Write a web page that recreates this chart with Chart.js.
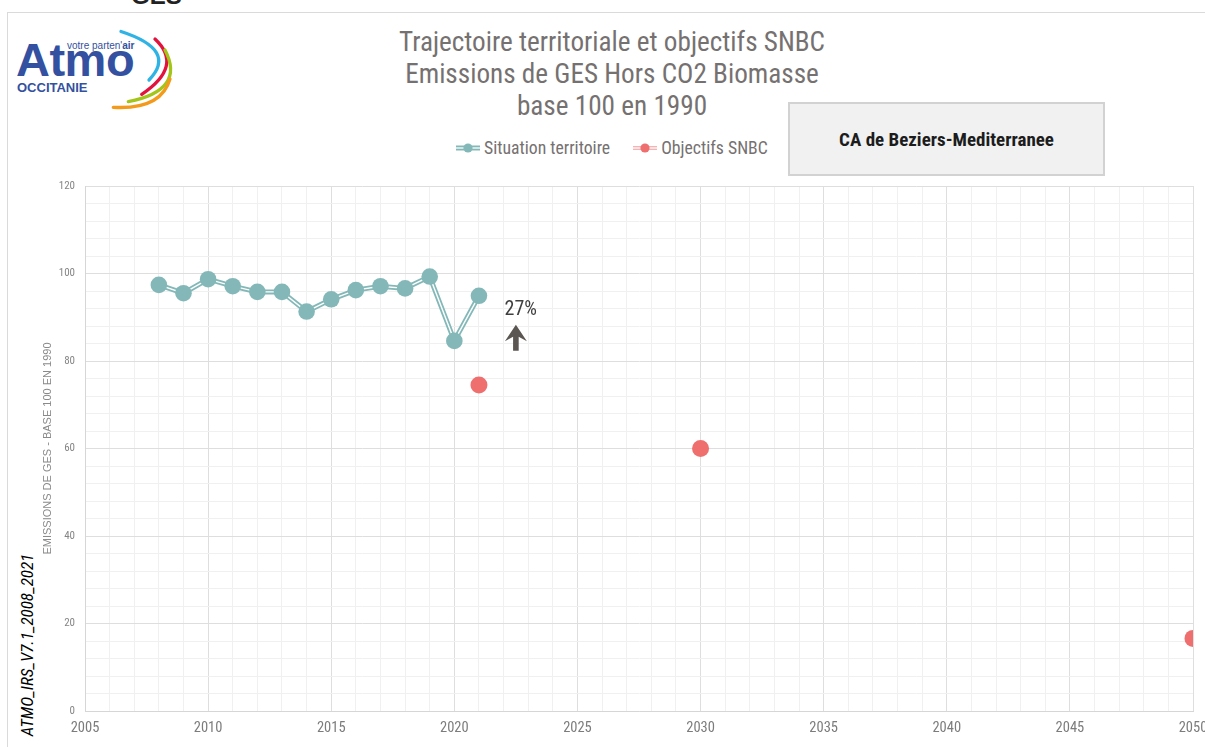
<!DOCTYPE html>
<html>
<head>
<meta charset="utf-8">
<script src="https://cdn.jsdelivr.net/npm/chart.js@4.4.1/dist/chart.umd.min.js"></script>
<style>
html, body { margin: 0; padding: 0; width: 1205px; height: 747px; overflow: hidden; background: #fff; }
.narrow { font-family: 'Liberation Sans Narrow', 'Arial Narrow', 'Roboto Condensed', 'Liberation Sans', sans-serif; }
#frame { position: absolute; left: 7px; top: 12px; width: 1300px; height: 800px; border-top: 1px solid #dadada; border-left: 1px solid #dadada; }
#wrap { position: absolute; left: 0; top: 0; width: 1225px; height: 747px; }
#heading { position: absolute; left: 131px; top: -16px; font: bold 24px 'Liberation Sans', sans-serif; line-height: 24px; color: #222; }
#title { position: absolute; left: 312px; top: 26px; width: 600px; text-align: center; font-size: 27.2px; line-height: 32px; color: #767171; }
#legend { position: absolute; left: 456px; top: 136px; height: 24px; display: flex; align-items: center; font-size: 17.7px; color: #767171; white-space: nowrap; }
#legend svg { display: block; margin-right: 2px; }
#legend .item { display: flex; align-items: center; }
#box { position: absolute; left: 788px; top: 102px; width: 313px; height: 70px; background: #f1f1f1; border: 2px solid #d2d2d2; display: flex; align-items: center; justify-content: center; font-weight: bold; font-size: 19px; color: #1c1c1c; }
#version { position: absolute; left: -73px; top: 635px; width: 200px; height: 20px; line-height: 20px; text-align: center; font-style: italic; font-size: 17px; color: #000; transform: rotate(-90deg); white-space: nowrap; }
#logo { position: absolute; left: 0; top: 0; width: 200px; height: 120px; }
#logo .atmo { position: absolute; left: 16px; top: 35px; font: bold 47px 'Liberation Sans', sans-serif; color: #3351a0; letter-spacing: -0.5px; line-height: 50px; }
#logo .occ { position: absolute; left: 17px; top: 80px; font: bold 13px 'Liberation Sans', sans-serif; color: #3351a0; line-height: 16px; }
#logo .tag { position: absolute; left: 67px; top: 40px; font: 10px 'Liberation Sans', sans-serif; color: #3351a0; line-height: 12px; }
#logo svg { position: absolute; left: 0; top: 0; }
</style>
</head>
<body>
<div id="frame"></div>
<div id="heading">GES</div>
<div id="logo">
  <div class="tag">votre parten'<b>air</b></div>
  <div class="atmo">Atmo</div>
  <div class="occ">OCCITANIE</div>
  <svg width="200" height="120" viewBox="0 0 200 120">
    <g fill="none" stroke-width="3.3" stroke-linecap="round">
      <path d="M121 31.5 Q178 50 149 80" stroke="#2fb3e4"/>
      <path d="M155 39 Q184 66 141.7 94.3" stroke="#e2123d"/>
      <path d="M165 50 Q186 90 128.3 101.7" stroke="#a3c51a"/>
      <path d="M170 79 Q161 110 113.3 107.3" stroke="#f39a1b"/>
    </g>
  </svg>
</div>
<div id="title" class="narrow">Trajectoire territoriale et objectifs SNBC<br>Emissions de GES Hors CO2 Biomasse<br>base 100 en 1990</div>
<div id="legend" class="narrow">
  <div class="item">
    <svg width="26" height="14" viewBox="0 0 26 14"><line x1="0" y1="7" x2="24" y2="7" stroke="#84b8b8" stroke-width="5"/><line x1="0" y1="7" x2="24" y2="7" stroke="#fff" stroke-width="1.3"/><circle cx="12" cy="7" r="4.6" fill="#84b8b8"/></svg>
    <span>Situation territoire</span>
  </div>
  <div class="item" style="margin-left:23px">
    <svg width="26" height="14" viewBox="0 0 26 14"><line x1="0" y1="7" x2="24" y2="7" stroke="#f6b3b3" stroke-width="4"/><line x1="0" y1="7" x2="24" y2="7" stroke="#fff" stroke-width="1.2"/><circle cx="12" cy="7" r="4.6" fill="#ef6f6f"/></svg>
    <span>Objectifs SNBC</span>
  </div>
</div>
<div id="box" class="narrow">CA de Beziers-Mediterranee</div>
<div id="version" class="narrow">ATMO_IRS_V7.1_2008_2021</div>
<div id="wrap"><canvas id="chart"></canvas></div>
<script>
const NARROW = "'Liberation Sans Narrow', 'Arial Narrow', 'Roboto Condensed', 'Liberation Sans', sans-serif"

// situation territoire, base 100 en 1990
const years = [2008, 2009, 2010, 2011, 2012, 2013, 2014, 2015, 2016, 2017, 2018, 2019, 2020, 2021]
const situation = [97.4, 95.5, 98.7, 97.1, 95.8, 95.8, 91.3, 94.1, 96.2, 97.1, 96.6, 99.3, 84.6, 94.9]

// objectifs SNBC
const objectifYears = [2021, 2030, 2050]
const objectifs = [74.5, 60.0, 16.6]

// axes
const xMin = 2005
const xMax = 2050
const xLabelEvery = 5
const yMin = 0
const yMax = 120
const yStep = 4
const yLabelEvery = 20

// ecart annotation
const trendLabel = '27%'
const trendAt = { x: 2022.7, y: 90.6 }
const arrowAt = { x: 2022.5, y: 88.3 }

const teal = '#84b8b8'
const red = '#ef6f6f'

const situationPoints = years.map((yr, i) => ({ x: yr, y: situation[i] }))
const objectifPoints = objectifYears.map((yr, i) => ({ x: yr, y: objectifs[i] }))

const trendMarker = {
    id: 'trendMarker',
    afterDatasetsDraw(chart) {
        const { ctx, scales: { x, y } } = chart
        ctx.save()
        ctx.fillStyle = '#3f3f3f'
        ctx.font = '20px ' + NARROW
        ctx.textAlign = 'center'
        ctx.textBaseline = 'alphabetic'
        ctx.fillText(trendLabel, x.getPixelForValue(trendAt.x), y.getPixelForValue(trendAt.y))

        const ax = x.getPixelForValue(arrowAt.x)
        const ay = y.getPixelForValue(arrowAt.y)
        ctx.fillStyle = '#5b5651'
        ctx.beginPath()
        ctx.moveTo(ax, ay)
        ctx.lineTo(ax + 11, ay + 16.5)
        ctx.lineTo(ax + 2.8, ay + 12)
        ctx.lineTo(ax + 2.8, ay + 26)
        ctx.lineTo(ax - 2.8, ay + 26)
        ctx.lineTo(ax - 2.8, ay + 12)
        ctx.lineTo(ax - 11, ay + 16.5)
        ctx.closePath()
        ctx.fill()
        ctx.restore()
    }
}

const chart = new Chart(document.querySelector('#chart'), {
    type: 'scatter',
    data: {
        datasets: [
            {
                // outer stroke of the double line
                label: 'Situation territoire',
                data: situationPoints,
                showLine: true,
                borderColor: teal,
                borderWidth: 5,
                pointRadius: 0,
                order: 4,
            },
            {
                // white core of the double line
                label: 'core',
                data: situationPoints,
                showLine: true,
                borderColor: '#ffffff',
                borderWidth: 1.4,
                pointRadius: 0,
                order: 3,
            },
            {
                label: 'Situation territoire points',
                data: situationPoints,
                showLine: false,
                pointRadius: 8.3,
                pointBackgroundColor: teal,
                pointBorderColor: teal,
                pointBorderWidth: 0,
                order: 2,
            },
            {
                label: 'Objectifs SNBC',
                data: objectifPoints,
                showLine: false,
                pointRadius: 8.5,
                pointBackgroundColor: red,
                pointBorderColor: red,
                pointBorderWidth: 0,
                order: 1,
            },
        ],
    },
    options: {
        responsive: true,
        maintainAspectRatio: false,
        animation: false,
        devicePixelRatio: 1,
        layout: {
            padding: { top: 186, right: 32, bottom: 0, left: 0 },
        },
        plugins: {
            legend: { display: false },
            title: { display: false },
            tooltip: { enabled: false },
        },
        scales: {
            x: {
                type: 'linear',
                min: xMin,
                max: xMax,
                afterFit: (scale) => { scale.height = 36 },
                border: { color: '#d6d6d6' },
                grid: {
                    drawTicks: false,
                    color: (c) => c.tick && c.tick.value % xLabelEvery === 0 ? '#dedede' : '#f0f0f0',
                },
                ticks: {
                    stepSize: 1,
                    autoSkip: false,
                    maxRotation: 0,
                    padding: 9,
                    color: '#7c7c7c',
                    font: { family: NARROW, size: 14.5 },
                    callback: (v) => v % xLabelEvery === 0 ? String(v) : '',
                },
            },
            y: {
                min: yMin,
                max: yMax,
                afterFit: (scale) => { scale.width = 85 },
                border: { color: '#d6d6d6' },
                grid: {
                    drawTicks: false,
                    color: (c) => c.tick && c.tick.value % yLabelEvery === 0 ? '#dedede' : '#f0f0f0',
                },
                ticks: {
                    stepSize: yStep,
                    autoSkip: false,
                    padding: 10,
                    color: '#858585',
                    font: { family: NARROW, size: 11 },
                    callback: (v) => v % yLabelEvery === 0 ? String(v) : '',
                },
                title: {
                    display: true,
                    text: 'EMISSIONS DE GES - BASE 100 EN 1990',
                    color: '#8a8a8a',
                    font: { family: "'Liberation Sans', sans-serif", size: 11 },
                    padding: { top: 41, bottom: 0 },
                },
            },
        },
    },
    plugins: [trendMarker],
});
</script>
</body>
</html>
